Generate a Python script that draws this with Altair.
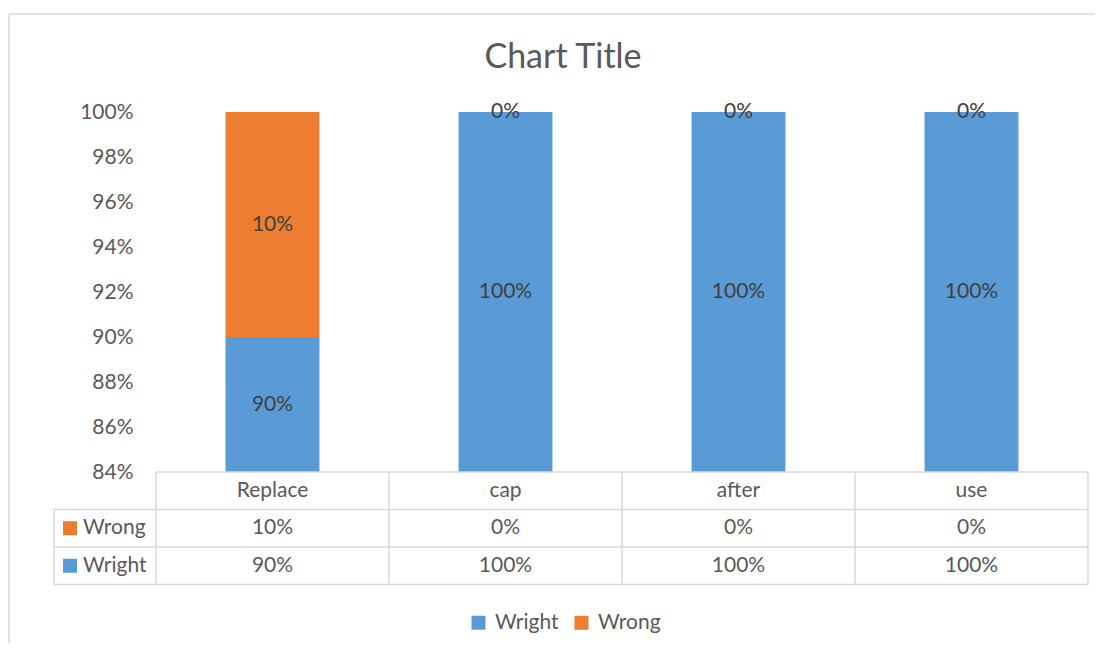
import altair as alt
import pandas as pd

# ---- data ----
categories = ["Replace", "cap", "after", "use"]
series = ["Wright", "Wrong"]
wright_vals = [0.90, 1.00, 1.00, 1.00]
wrong_vals = [0.10, 0.00, 0.00, 0.00]
y_ticks = [0.84, 0.86, 0.88, 0.90, 0.92, 0.94, 0.96, 0.98, 1.00]
table_rows = ["head", "Wrong", "Wright"]

colors = ["#5B9BD5", "#ED7D31"]
FONT = "Lato"
FS = 21
TXT = "#595959"
LINE = "#D9D9D9"

# ---- layout constants (pixels, relative to plot origin) ----
W = 932          # plot width (category columns)
H = 360          # bar plot height
ROW_TOP = 360    # table top
ROW_BOT = 472.5  # table bottom
LABEL_COL = -102  # left edge of the row-label column

rows = []
for i, c in enumerate(categories):
    rows.append({"cat": c, "series": "Wright", "value": wright_vals[i], "ord": 0})
    rows.append({"cat": c, "series": "Wrong", "value": wrong_vals[i], "ord": 1})
df = pd.DataFrame(rows)

trows = []
for i, c in enumerate(categories):
    trows.append({"cat": c, "row": "head", "label": c})
    trows.append({"cat": c, "row": "Wrong", "label": f"{round(wrong_vals[i]*100)}%"})
    trows.append({"cat": c, "row": "Wright", "label": f"{round(wright_vals[i]*100)}%"})
tdf = pd.DataFrame(trows)

rowlab = pd.DataFrame({"row": ["Wrong", "Wright"], "series": ["Wrong", "Wright"]})

# table grid lines
step = W / len(categories)
rh = (ROW_BOT - ROW_TOP) / 3
grid = []
grid.append({"x": 0, "x2": W, "y": ROW_TOP, "y2": ROW_TOP})
for k in (1, 2, 3):
    grid.append({"x": LABEL_COL, "x2": W, "y": ROW_TOP + k * rh, "y2": ROW_TOP + k * rh})
grid.append({"x": LABEL_COL, "x2": LABEL_COL, "y": ROW_TOP + rh, "y2": ROW_BOT})
for k in range(len(categories) + 1):
    grid.append({"x": k * step, "x2": k * step, "y": ROW_TOP, "y2": ROW_BOT})
# chart-area border (top and left edges visible)
grid.append({"x": -147, "x2": -147, "y": -98, "y2": 531})
grid.append({"x": -147, "x2": 939, "y": -98, "y2": -98})
gdf = pd.DataFrame(grid)

color_scale = alt.Scale(domain=series, range=colors)
xscale = alt.Scale(domain=categories, paddingInner=0.597, paddingOuter=0.2985)

stacked = alt.Chart(df).transform_stack(
    stack="value", groupby=["cat"], as_=["y0", "y1"], sort=[alt.SortField("ord")]
)

bars = stacked.mark_bar(clip=True).encode(
    x=alt.X("cat:N", sort=categories, scale=xscale, axis=None),
    y=alt.Y("y1:Q", scale=alt.Scale(domain=[0.84, 1.0], nice=False, zero=False),
            axis=alt.Axis(values=y_ticks, format=".0%", title=None, ticks=False,
                          domain=False, grid=False, labelPadding=23,
                          labelFont=FONT, labelFontSize=FS, labelColor=TXT)),
    y2="y0:Q",
    color=alt.Color("series:N", scale=color_scale,
                    legend=alt.Legend(orient="none", direction="horizontal",
                                      legendX=312, legendY=500, title=None,
                                      symbolType="square", symbolSize=196,
                                      symbolStrokeWidth=0, labelFont=FONT,
                                      labelFontSize=FS, labelColor=TXT,
                                      labelOffset=6, columnPadding=12)),
)

labels = stacked.transform_calculate(
    mid="(max(datum.y0, 0.84) + datum.y1) / 2"
).mark_text(font=FONT, fontSize=FS, color="#404040", baseline="middle").encode(
    x=alt.X("cat:N", sort=categories, scale=xscale, axis=None),
    y=alt.Y("mid:Q", scale=alt.Scale(domain=[0.84, 1.0], nice=False, zero=False), axis=None),
    text=alt.Text("value:Q", format=".0%"),
)

yt = alt.Y("row:N", scale=alt.Scale(domain=table_rows, range=[ROW_TOP, ROW_BOT],
                                     paddingInner=0, paddingOuter=0), axis=None)

table_text = alt.Chart(tdf).mark_text(font=FONT, fontSize=FS, color=TXT, baseline="middle").encode(
    x=alt.X("cat:N", sort=categories, scale=xscale, axis=None),
    y=yt,
    text="label:N",
)

row_text = alt.Chart(rowlab).mark_text(font=FONT, fontSize=FS, color=TXT,
                                        baseline="middle", align="left").encode(
    x=alt.value(-73),
    y=yt,
    text="series:N",
)

row_sym = alt.Chart(rowlab).mark_point(shape="square", filled=True, size=196, opacity=1).encode(
    x=alt.value(-86),
    y=yt,
    color=alt.Color("series:N", scale=color_scale),
)

rules = alt.Chart(gdf).mark_rule(color=LINE, strokeWidth=1.5).encode(
    x=alt.X("x:Q", scale=None), x2="x2:Q",
    y=alt.Y("y:Q", scale=None), y2="y2:Q",
)

chart = alt.layer(bars, labels, rules, table_text, row_text, row_sym).resolve_scale(
    y="independent"
).properties(
    width=W, height=H,
    title=alt.TitleParams("Chart Title", font=FONT, fontSize=34, fontWeight="normal",
                          color=TXT, anchor="middle", dx=-59, offset=35, dy=124,
                          baseline="alphabetic"),
    autosize=alt.AutoSizeParams(type="none"),
    padding={"left": 148, "top": 104, "right": 7, "bottom": 171},
).configure_view(stroke=None)

chart.save("out.html", embed_options={"renderer": "svg", "actions": False})
